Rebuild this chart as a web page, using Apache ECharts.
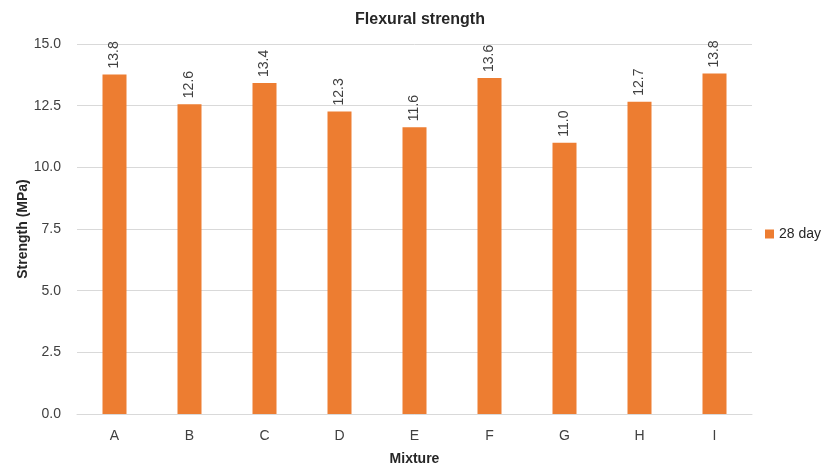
<!DOCTYPE html>
<html><head><meta charset="utf-8">
<script src="https://cdn.jsdelivr.net/npm/echarts@6/dist/echarts.min.js"></script>
<style>html,body{margin:0;padding:0;background:#fff}#c{width:821px;height:468px}</style>
</head><body><div id="c"></div>
<script>
const categories = ['A','B','C','D','E','F','G','H','I'];
const values28 = [13.76, 12.56, 13.42, 12.26, 11.63, 13.62, 11.0, 12.66, 13.8];
const yTicks = [0, 2.5, 5, 7.5, 10, 12.5, 15];
const seriesName = '28 day';

const chart = echarts.init(document.getElementById('c'));
const font = '"Liberation Sans", Arial, sans-serif';
chart.setOption({
  animation: false,
  textStyle: {fontFamily: font},
  title: {text: 'Flexural strength', left: 415, top: 7, textAlign: 'center',
    textStyle: {fontFamily: font, fontSize: 16, fontWeight: 'bold', color: '#262626'}},
  grid: {left: 77, right: 69, top: 44, bottom: 54, outerBoundsMode: 'none', containLabel: false},
  legend: {data: [seriesName], orient: 'vertical', left: 765, top: 'middle', padding: 0,
    icon: 'rect', itemWidth: 9, itemHeight: 9, itemGap: 6,
    textStyle: {fontFamily: font, fontSize: 14, color: '#262626'}},
  xAxis: {type: 'category', data: categories, name: 'Mixture', nameLocation: 'middle', nameGap: 38,
    nameTextStyle: {fontFamily: font, fontSize: 14, fontWeight: 'bold', color: '#262626'},
    axisTick: {show: false}, axisLine: {lineStyle: {color: '#d9d9d9'}},
    axisLabel: {fontFamily: font, fontSize: 14, color: '#404040', margin: 15}},
  yAxis: {type: 'value', min: yTicks[0], max: yTicks[yTicks.length-1], interval: 2.5,
    name: 'Strength (MPa)', nameLocation: 'middle', nameGap: 47, nameMoveOverlap: false,
    nameTextStyle: {fontFamily: font, fontSize: 14, fontWeight: 'bold', color: '#262626'},
    axisLine: {show: false}, axisTick: {show: false},
    splitLine: {lineStyle: {color: '#d9d9d9'}},
    axisLabel: {fontFamily: font, fontSize: 14, color: '#404040', margin: 16,
      formatter: v => v.toFixed(1)}},
  series: [{name: seriesName, type: 'bar', data: values28, barWidth: '32%',
    itemStyle: {color: '#ED7D31'},
    label: {show: true, position: 'top', rotate: 90, align: 'left', verticalAlign: 'middle',
      distance: 6, fontFamily: font, fontSize: 14, color: '#404040',
      formatter: p => p.value.toFixed(1)}}]
});
</script></body></html>
